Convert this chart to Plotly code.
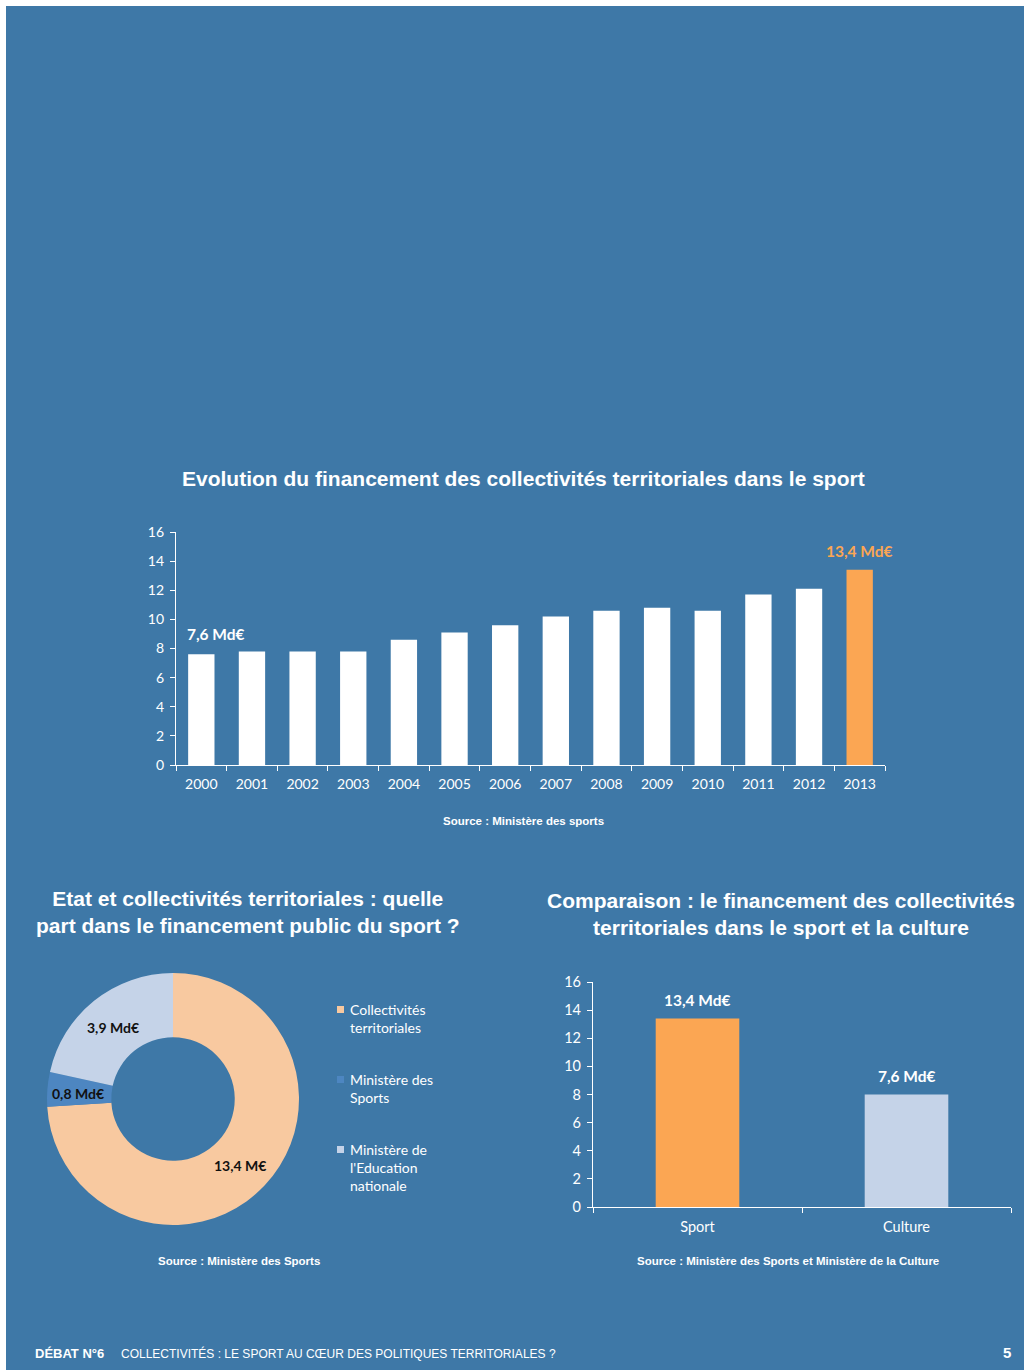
import plotly.graph_objects as go

W, H = 1024, 1370
def px(x): return x / W
def py(y): return 1 - y / H

BG = "#3E78A7"
ORANGE = "#FBA653"
PEACH = "#F8C9A0"
MIDBLUE = "#4D86C1"
LIGHT = "#C5D3E8"
TITLE_FONT = "Liberation Sans"
BODY_FONT = "Lato"

# --- data ---
years = ["2000", "2001", "2002", "2003", "2004", "2005", "2006",
         "2007", "2008", "2009", "2010", "2011", "2012", "2013"]
funding = [7.6, 7.8, 7.8, 7.8, 8.6, 9.1, 9.6, 10.2, 10.6, 10.8, 10.6, 11.7, 12.1, 13.4]
first_label = "7,6 Md€"
last_label = "13,4 Md€"

pie_labels = ["Collectivités<br>territoriales", "Ministère des<br>Sports",
              "Ministère de<br>l'Education<br>nationale"]
pie_values = [13.4, 0.8, 3.9]
pie_text = ["13,4 M€", "0,8 Md€", "3,9 Md€"]

comp_cats = ["Sport", "Culture"]
comp_values = [13.4, 8.0]
comp_text = ["13,4 Md€", "7,6 Md€"]

y_ticks = [0, 2, 4, 6, 8, 10, 12, 14, 16]

fig = go.Figure()

# Top bar chart
bar_colors = ["white"] * (len(years) - 1) + [ORANGE]
fig.add_trace(go.Bar(x=years, y=funding, marker=dict(color=bar_colors, line=dict(width=0)),
                     width=0.52, xaxis="x", yaxis="y", showlegend=False, hoverinfo="x+y"))

# Donut
pie_colors = [PEACH, MIDBLUE, LIGHT]
fig.add_trace(go.Pie(labels=pie_labels, values=pie_values, hole=0.49, sort=False,
                     direction="clockwise", rotation=0, textinfo="none",
                     marker=dict(colors=pie_colors, line=dict(width=0)),
                     domain=dict(x=[px(47), px(299)], y=[py(1225), py(973)]),
                     showlegend=False))

# Comparison bar chart
fig.add_trace(go.Bar(x=comp_cats, y=comp_values, marker=dict(color=[ORANGE, LIGHT], line=dict(width=0)),
                     width=0.40, xaxis="x2", yaxis="y2", showlegend=False))

def axis_common(size):
    return dict(showgrid=False, zeroline=False, showline=True, linecolor="white", automargin=False,
                linewidth=1.2, ticks="outside", tickcolor="white", ticklen=5, tickwidth=1.2,
                tickfont=dict(family=BODY_FONT, size=size, color="white"), fixedrange=True)

fig.update_layout(
    width=W, height=H, margin=dict(l=0, r=0, t=0, b=0, pad=0, autoexpand=False),
    paper_bgcolor="white", plot_bgcolor=BG, showlegend=False,
    xaxis=dict(domain=[px(176), px(885)], anchor="y", type="category", range=[-0.5, len(years) - 0.5],
               tickson="boundaries", tickangle=0, ticklabelstandoff=6, **axis_common(14)),
    yaxis=dict(domain=[py(765), py(532)], anchor="x", range=[0, 16], tickvals=y_ticks,
               ticklabelstandoff=3, **axis_common(14)),
    xaxis2=dict(domain=[px(593), px(1011)], anchor="y2", type="category", range=[-0.5, len(comp_cats) - 0.5],
                tickson="boundaries", tickangle=0, ticklabelstandoff=6, **axis_common(14.5)),
    yaxis2=dict(domain=[py(1207), py(982)], anchor="x2", range=[0, 16], tickvals=y_ticks,
                ticklabelstandoff=3, **axis_common(14.5)),
)

shapes = [dict(type="rect", xref="paper", yref="paper", x0=px(6), x1=1, y0=0, y1=py(6),
               fillcolor=BG, line=dict(width=0), layer="below")]

ann = []
def text(x, y, s, size, color="white", family=TITLE_FONT, bold=True, xanchor="center", yanchor="middle", align="center"):
    ann.append(dict(x=px(x), y=py(y), xref="paper", yref="paper", text=("<b>%s</b>" % s) if bold else s,
                    showarrow=False, xanchor=xanchor, yanchor=yanchor, align=align,
                    font=dict(family=family, size=size, color=color)))

text(523, 479, "Evolution du financement des collectivités territoriales dans le sport", 21)
text(523, 821, "Source : Ministère des sports", 11.5)
# bar value labels (top chart)
ann.append(dict(x=0, y=funding[0], xref="x", yref="y", text="<b>%s</b>" % first_label,
                showarrow=False, yanchor="bottom", yshift=9, xshift=15,
                font=dict(family=BODY_FONT, size=15.5, color="white")))
ann.append(dict(x=len(years) - 1, y=funding[-1], xref="x", yref="y", text="<b>%s</b>" % last_label,
                showarrow=False, yanchor="bottom", yshift=8,
                font=dict(family=BODY_FONT, size=15.5, color=ORANGE)))

text(248, 912, "Etat et collectivités territoriales : quelle<br>part dans le financement public du sport ?", 21)
text(781, 914, "Comparaison : le financement des collectivités<br>territoriales dans le sport et la culture", 21)

# donut labels
pie_text_pos = [(240, 1165), (78, 1093), (113, 1027)]
for (x, y), s in zip(pie_text_pos, pie_text):
    text(x, y, s, 14, color="#111111", family=BODY_FONT)

# custom legend
legend_tops = [999, 1069, 1139]
for top, lab, col in zip(legend_tops, pie_labels, pie_colors):
    shapes.append(dict(type="rect", xref="paper", yref="paper", x0=px(337), x1=px(344),
                       y0=py(top + 14), y1=py(top + 7), fillcolor=col, line=dict(width=0)))
    text(348, top, lab, 14, family=BODY_FONT, bold=False, xanchor="left", yanchor="top", align="left")

# comparison bar labels
for i, (v, s) in enumerate(zip(comp_values, comp_text)):
    ann.append(dict(x=i, y=v, xref="x2", yref="y2", text="<b>%s</b>" % s, showarrow=False,
                    yanchor="bottom", yshift=8, font=dict(family=BODY_FONT, size=15.5, color="white")))

text(239, 1261, "Source : Ministère des Sports", 11.5)
text(788, 1261, "Source : Ministère des Sports et Ministère de la Culture", 11.5)

# footer
text(33, 1353, "DÉBAT N°6", 13, family="Liberation Sans Narrow, Liberation Sans", xanchor="left")
text(119, 1353, "COLLECTIVITÉS : LE SPORT AU CŒUR DES POLITIQUES TERRITORIALES ?", 12,
     family="Liberation Sans Narrow, Liberation Sans", bold=False, xanchor="left")
text(1007, 1352, "5", 15, family="Liberation Sans Narrow, Liberation Sans", bold=True)

fig.update_layout(shapes=shapes, annotations=ann)
post = (
    "document.body.style.margin='0';"
    "document.body.style.overflow='hidden';"
)
fig.write_html("out.html", post_script=post)
